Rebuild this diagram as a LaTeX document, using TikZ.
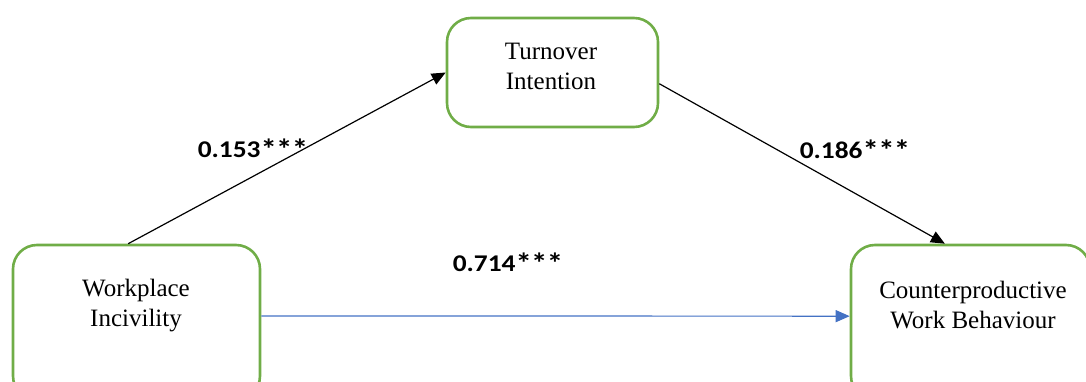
\documentclass[tikz,border=0pt]{standalone}
\usepackage{fontspec}
\usepackage{graphicx}
\setmainfont{Liberation Serif}
\newfontfamily\labelfont{Carlito}
\usetikzlibrary{arrows.meta}
\definecolor{boxgreen}{HTML}{70AD47}
\definecolor{pathblue}{HTML}{4472C4}
\newcommand{\widetext}[1]{\scalebox{1.14}[1]{#1}}
\newcommand{\stars}{\raisebox{-2pt}{\scalebox{1.2}{*\kern-0.5pt*\kern-0.5pt*}}}
\begin{document}
\begin{tikzpicture}[x=1pt, y=-1pt,
		factor/.style = {shape=rectangle, draw=boxgreen, line width=2.6pt, rounded corners=24pt},
		factor text/.style = {align=center, font=\fontsize{25}{30}\selectfont},
		coef/.style = {font=\labelfont\bfseries\fontsize{24}{26}\selectfont},
		path arrow/.style = {line width=1.2pt, -{Triangle[length=14pt, width=12pt]}}]
		
		\clip (0,0) rectangle (1086,382);
		
		% boxes
		\node[factor, minimum width=211pt, minimum height=109pt] (tur) at (552.5,72.5) {};
		\node[factor, minimum width=247pt, minimum height=155pt] (inc) at (136.5,322.5) {};
		\node[factor, minimum width=239pt, minimum height=155pt] (cbe) at (970.5,322.5) {};
		\node[factor text] (turtext) at (551,66) {Turnover\\Intention};
		\node[factor text] (inctext) at (136,306) {Workplace\\Incivility};
		\node[factor text] (cbetext) at (973,305) {Counterproductive\\Work Behaviour};
		
		% paths
		\draw[path arrow] (inc.96) -- (tur.west);
		\draw[path arrow] (tur.-6) -- (cbe.108);
		\draw[path arrow, draw=pathblue, -{Triangle[length=14pt, width=12pt, fill=pathblue]}] (inc.3) -- (cbe.177);
		
		% coefficients
		\node[coef] (a) at (253,149) {\widetext{0.153\stars}};
		\node[coef] (b) at (855,150) {\widetext{0.186\stars}};
		\node[coef] (c) at (508,263) {\widetext{0.714\stars}};
\end{tikzpicture}
\end{document}
